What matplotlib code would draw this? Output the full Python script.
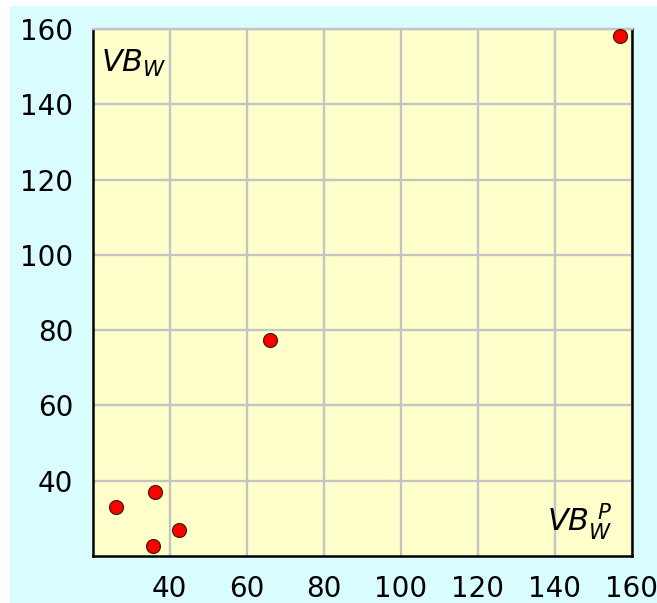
import matplotlib
matplotlib.use("Agg")
import matplotlib.pyplot as plt
from matplotlib.patches import Rectangle

# values
vb_w_p = [26, 36.2, 35.8, 42.5, 66, 157]
vb_w = [32.9, 36.9, 22.7, 26.9, 77.5, 158.2]
xticks = [40, 60, 80, 100, 120, 140, 160]
yticks = [40, 60, 80, 100, 120, 140, 160]

fig = plt.figure(figsize=(6.57, 6.03), dpi=100, facecolor="white")
# cyan panel, leaves a thin white strip top and left
fig.patches.append(Rectangle((10 / 657, 0), 1, 1 - 6 / 603,
                             transform=fig.transFigure, facecolor="#d9fcff",
                             edgecolor="none", zorder=-10))

ax = fig.add_axes([0.141, 0.078, 0.8205, 0.874])
ax.set_facecolor("#ffffcc")
ax.set_xlim(20, 160)
ax.set_ylim(20, 160)
ax.set_xticks(xticks)
ax.set_yticks(yticks)
ax.grid(True, color="#c4c4c4", linewidth=1.7)
ax.set_axisbelow(True)
ax.tick_params(length=0, pad=14, labelsize=20)

for side in ["left", "bottom", "right"]:
    ax.spines[side].set_linewidth(1.8)
    ax.spines[side].set_color("black")
ax.spines["top"].set_color("#c4c4c4")
ax.spines["top"].set_linewidth(1.7)

ax.scatter(vb_w_p, vb_w, s=100, color="red", edgecolor="#402000",
           linewidth=0.9, zorder=3, clip_on=False)

ax.text(0.016, 0.935, r"$VB_W$", transform=ax.transAxes, fontsize=22,
        ha="left", va="center")
ax.text(0.965, 0.065, r"$VB_W^{\ P}$", transform=ax.transAxes, fontsize=22,
        ha="right", va="center")

fig.savefig("out.png", dpi=100, facecolor=fig.get_facecolor())
